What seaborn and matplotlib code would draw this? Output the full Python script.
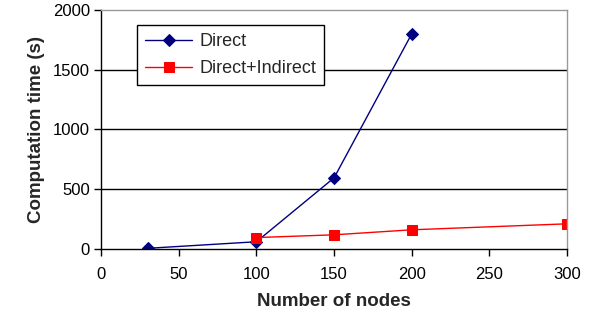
import matplotlib
matplotlib.use("Agg")
import matplotlib.pyplot as plt
import seaborn as sns
import pandas as pd

# Computation time versus number of nodes
direct_nodes = [30, 100, 150, 200]
direct_time = [5, 60, 595, 1800]
combined_nodes = [100, 150, 200, 300]
combined_time = [95, 118, 160, 210]

x_ticks = [0, 50, 100, 150, 200, 250, 300]
y_ticks = [0, 500, 1000, 1500, 2000]

sns.set_theme(style="white")
plt.rcParams["font.family"] = ["Liberation Sans", "DejaVu Sans"]

df_direct = pd.DataFrame({"nodes": direct_nodes, "time": direct_time})
df_comb = pd.DataFrame({"nodes": combined_nodes, "time": combined_time})

fig = plt.figure(figsize=(5.95, 3.31), dpi=100)
ax = fig.add_axes([0.170, 0.248, 0.783, 0.722])

sns.lineplot(data=df_direct, x="nodes", y="time", ax=ax, color="#000080",
             lw=1.0, marker="D", markersize=6, markeredgecolor="#000080",
             label="Direct")
sns.lineplot(data=df_comb, x="nodes", y="time", ax=ax, color="#FF0000",
             lw=1.0, marker="s", markersize=7, markeredgecolor="#FF0000",
             label="Direct+Indirect")

ax.set_xlim(0, 300)
ax.set_ylim(0, 2000)
ax.set_xticks(x_ticks)
ax.set_yticks(y_ticks)
ax.tick_params(axis="both", labelsize=12, colors="black", length=5,
               width=1, direction="out", bottom=True, left=True)
ax.tick_params(axis="x", pad=8)
ax.tick_params(axis="y", pad=3)

for v in y_ticks[1:-1]:
    ax.axhline(v, color="black", lw=1.0, zorder=0)

for side in ("top", "right"):
    ax.spines[side].set_color("#999999")
    ax.spines[side].set_linewidth(1.0)
for side in ("left", "bottom"):
    ax.spines[side].set_color("black")
    ax.spines[side].set_linewidth(1.0)

ax.set_xlabel("Number of nodes", fontsize=13.5, fontweight="bold", labelpad=8)
ax.set_ylabel("Computation time (s)", fontsize=13.5, fontweight="bold",
              labelpad=6)

leg = ax.legend(loc="upper left", bbox_to_anchor=(0.077, 0.937),
                borderaxespad=0, fontsize=13, frameon=True, fancybox=False,
                edgecolor="black", framealpha=1, handlelength=2.6,
                handletextpad=0.4, borderpad=0.45, labelspacing=0.55)
leg.get_frame().set_linewidth(1.0)

fig.savefig("out.png", dpi=100)
